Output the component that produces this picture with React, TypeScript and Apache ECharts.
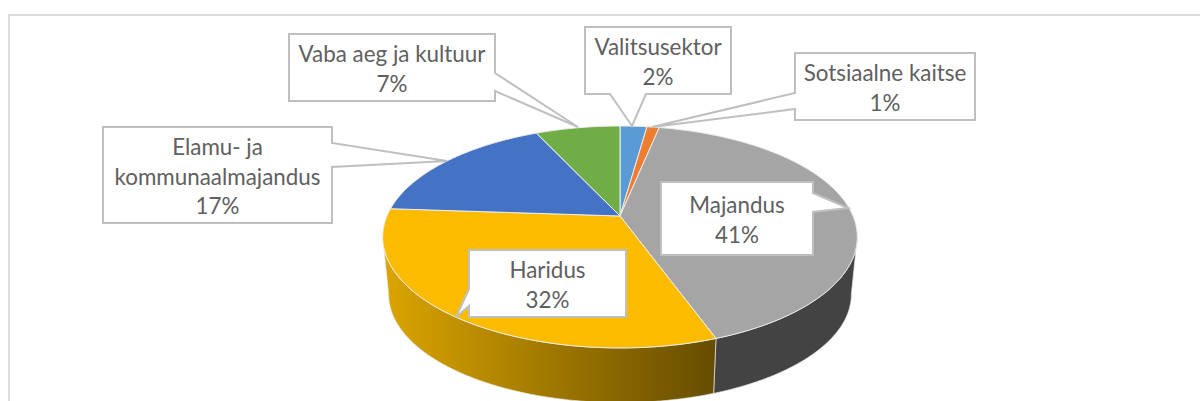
import React, { useEffect, useRef } from "react";
import * as echarts from "echarts";

const categories = ["Valitsusektor", "Sotsiaalne kaitse", "Majandus", "Haridus", "Elamu- ja\nkommunaalmajandus", "Vaba aeg ja kultuur"];
const shares = [2.2, 1.0, 41.3, 31.6, 17.0, 6.9];
const sliceColors = ["#5B9BD5", "#ED7D31", "#A5A5A5", "#FBBC00", "#4472C4", "#70AD47"];

// projected disc geometry (perspective view of the pie)
const CX = 620;
const TOP_Y = 216;
const BOTTOM_Y = 274;
const RX = 233;
const RY = 107;
const P = 0.189;
const BOTTOM_SCALE = 0.975;

type Pt = [number, number];
const project = (deg: number, y0: number, s: number): Pt => {
  const t = (deg * Math.PI) / 180;
  const u = Math.sin(t);
  const v = Math.cos(t);
  const d = 1 + P * v;
  return [CX + (s * RX * u) / d, y0 - (s * RY * v) / d];
};
const arc = (a: number, b: number, y0: number, s: number): Pt[] => {
  const n = Math.max(2, Math.ceil(Math.abs(b - a) * 2));
  const pts: Pt[] = [];
  for (let i = 0; i <= n; i++) pts.push(project(a + ((b - a) * i) / n, y0, s));
  return pts;
};

const total = shares.reduce((a, b) => a + b, 0);
let running = 0;
const sliceRows = shares.map((v, i) => {
  const start = (running / total) * 360;
  running += v;
  return [start, (running / total) * 360, i];
});

// the wall is visible between the two silhouette angles of the projected disc
const SIL_R = (Math.acos(-P) * 180) / Math.PI;
const SIL_L = 360 - SIL_R;

const goldWall = () =>
  new echarts.graphic.LinearGradient(0, 0, 1, 0, [
    { offset: 0, color: "#DBA500" },
    { offset: 1, color: "#654C00" },
  ]);

const renderWall = (_p: any, api: any) => {
  const lo = Math.max(api.value(0), SIL_R);
  const hi = Math.min(api.value(1), SIL_L);
  if (lo >= hi) return null;
  const pts = [...arc(lo, hi, TOP_Y, 1), ...arc(hi, lo, BOTTOM_Y, BOTTOM_SCALE)];
  return {
    type: "polygon",
    shape: { points: pts },
    style: { fill: api.value(2) === 3 ? goldWall() : "#434343", stroke: "#E6E6E6", lineWidth: 0.7 },
  };
};

const renderTop = (_p: any, api: any) => {
  const pts: Pt[] = [[CX, TOP_Y], ...arc(api.value(0), api.value(1), TOP_Y, 1)];
  return {
    type: "polygon",
    shape: { points: pts },
    style: { fill: sliceColors[api.value(2)], stroke: "#EDEDED", lineWidth: 1 },
  };
};

// callout boxes: [left, top, right, bottom], tail side, tail span, tail tip
const callouts = [
  { box: [585, 27, 731, 94], side: "bottom", span: [610, 646], tip: [632, 126] },
  { box: [795, 53, 975, 120], side: "left", span: [93, 109], tip: [652, 127] },
  { box: [661, 182, 813, 255], side: "right", span: [193, 212], tip: [848, 208] },
  { box: [469, 250, 626, 317], side: "left", span: [289, 306], tip: [456, 317] },
  { box: [103, 127, 332, 223], side: "right", span: [143, 167], tip: [447, 161] },
  { box: [289, 34, 495, 101], side: "right", span: [73, 91], tip: [578, 127] },
];

const calloutPoints = (c: (typeof callouts)[number]): number[][] => {
  const [l, t, r, b] = c.box;
  const [s0, s1] = c.span;
  if (c.side === "bottom") return [[l, t], [r, t], [r, b], [s1, b], c.tip, [s0, b], [l, b]];
  if (c.side === "left") return [[l, t], [r, t], [r, b], [l, b], [l, s1], c.tip, [l, s0]];
  return [[l, t], [r, t], [r, s0], c.tip, [r, s1], [r, b], [l, b]];
};

const calloutGraphics = callouts.flatMap((c, i) => [
  {
    type: "polygon",
    z: 10,
    shape: { points: calloutPoints(c) },
    style: { fill: "#FFFFFF", stroke: "#BFBFBF", lineWidth: 2 },
  },
  {
    type: "text",
    z: 11,
    x: (c.box[0] + c.box[2]) / 2,
    y: (c.box[1] + c.box[3]) / 2 + 1,
    style: {
      text: `${categories[i]}\n${Math.round((shares[i] / total) * 100)}%`,
      fill: "#606060",
      font: "22.4px Lato",
      lineHeight: 29.5,
      align: "center",
      verticalAlign: "middle",
    },
  },
]);

export default function App() {
  const ref = useRef<HTMLDivElement>(null);
  useEffect(() => {
    const chart = echarts.init(ref.current!, undefined, { renderer: "svg" });
    chart.setOption({
      animation: false,
      backgroundColor: "#FFFFFF",
      series: [
        { type: "custom", coordinateSystem: "none", renderItem: renderWall, data: sliceRows, z: 1, silent: true },
        { type: "custom", coordinateSystem: "none", renderItem: renderTop, data: sliceRows, z: 2, silent: true },
      ],
      graphic: [
        {
          type: "polyline",
          z: 0,
          shape: { points: [[9, 401], [9, 15], [1200, 15]] },
          style: { stroke: "#DCDCDC", lineWidth: 2, fill: "none" },
        },
        ...calloutGraphics,
      ],
    });
    return () => chart.dispose();
  }, []);
  return <div ref={ref} style={{ position: "fixed", left: 0, top: 0, width: 1200, height: 401 }} />;
}
